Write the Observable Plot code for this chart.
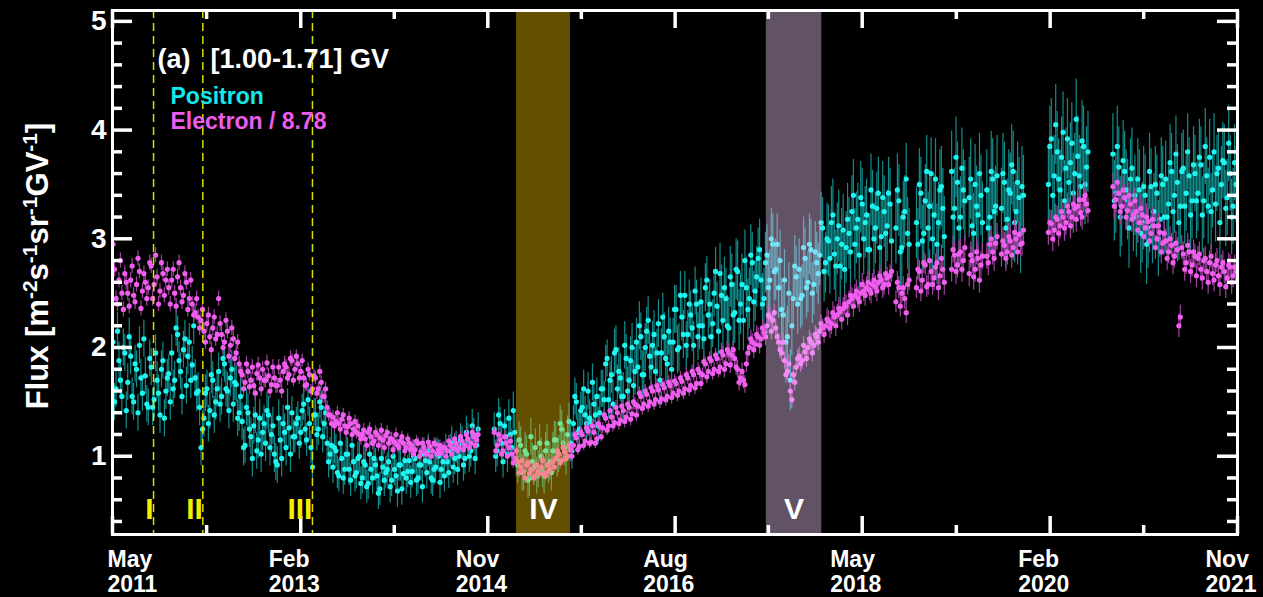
<!DOCTYPE html>
<html><head><meta charset="utf-8">
<script src="https://cdn.jsdelivr.net/npm/d3@7"></script>
<script src="https://cdn.jsdelivr.net/npm/@observablehq/plot@0.6"></script>
<style>
html,body{margin:0;padding:0;background:#000;}
#chart svg{display:block;}
</style></head><body><div id="chart"></div>
<script>
// ---- sampling grid of the series: samples "a" every 10 days, samples "b" 5 days later ----
const gridStart = "2011-05-03";
const gridStepDays = 10;
const bOffsetDays = 5;
const segStartIndex = [0, 130, 267, 274, 286, 292, 298, 303, 319, 341];

// ---- positron flux, samples a, per data segment ----
const pos1 = [2.05,1.62,1.88,1.55,1.95, 1.68,1.92,1.50,1.80,2.02,1.58,1.74,1.45, 1.82,1.52,1.70,1.38,1.88,1.60,1.76,
  1.95,1.70,2.12,1.78,1.98,1.65,2.05,1.84,1.72,1.60, 1.08,1.35,1.62,1.42,1.70,1.50, 1.78,1.55,1.85,1.60,1.72,1.48,1.66,1.40,
  1.32,1.10,1.40,1.18,1.28,1.05,1.35,1.22,1.12,1.38,1.20,1.02, 0.92,1.15,1.30,1.08,1.26,1.40,1.18, 1.35,1.22,1.48,1.15,1.30,0.90,
  1.38,1.25,1.45,1.30,1.12,1.02, 0.90,1.05,0.82,0.98,0.88,1.02,0.78,0.95,0.85,1.00,
  0.80,0.92,0.75,0.88,0.98,0.82,0.70,0.90,0.85,0.95,0.78,0.88,0.68,0.92,0.84,0.80,0.96,
  0.86,0.98,0.80,0.92,1.02,0.85,0.95,0.78,0.90,1.00,0.88,0.82, 0.95,1.05,0.90,1.08,1.00,1.12,0.98,1.15,1.05,1.20,1.10];
const pos2 = [1.25,1.05,1.30,0.95,1.18,1.35,1.08,1.22, 0.92,1.10,0.85,1.02,0.80,0.95,1.08,0.88,1.00,0.82,1.12,0.95,1.05,
  1.15,1.02,1.25,1.08,1.20,1.12, 1.30,1.50,1.25,1.45,1.38,1.60,1.32,1.48,1.55,1.40,
  1.62,1.85,1.52,1.75,1.95,1.62,1.72,1.55,1.90,1.70,2.00,1.78, 1.82,2.10,1.75,2.15,1.92,2.02,1.78,2.22,1.95,2.10,1.85,2.05,
  2.05,2.35,2.00,2.28,2.48,2.12,2.30,2.02,2.40,2.20, 2.20,2.55,2.30,2.10,2.50,2.38,2.68,2.25,2.45,2.18,
  2.58,2.32,2.70,2.40,2.25,2.55, 2.45,2.78,2.52,2.82,2.62,2.45, 2.85,2.62,2.95,2.72, 2.55,2.35,2.62,2.10,1.70,2.45,2.65,
  2.72,2.48,2.82,2.60,2.90,2.58,2.78, 2.85,3.10,2.78,2.98,3.15,2.86,3.00,2.75,3.08,2.92,
  3.05,3.25,2.95,3.18,3.38,3.00,3.22,2.90,3.30,3.10,3.42,3.02,3.25,3.12,3.32];
const pos3 = [3.10,3.35,2.92,3.25,3.05];
const pos4 = [3.15,3.50,2.98,3.35,3.10,3.60,3.22,2.95,3.45,3.28];
const pos5 = [3.62,3.28,3.52,3.20,3.45];
const pos6 = [3.38,3.12,3.50,3.22,3.40];
const pos7 = [3.45,3.20,3.55,3.30];
const pos8 = [3.28,3.52,3.18,3.42,3.62,3.25,3.38,3.48];
const pos9 = [3.50,3.92,3.58,3.80,3.45,3.98,3.65,3.52,3.88,3.60,3.76,3.48,3.85,3.66];
const pos10 = [3.78,3.42,3.66,3.30,3.62,3.36,3.55,3.25, 3.20,3.45,3.15,3.40,3.10,3.48,3.25,3.42,3.18,3.50,
  3.55,3.32,3.62,3.40,3.52,3.30,3.65,3.42,3.58,3.35,3.60, 3.42,3.68,3.35,3.58,3.75,3.45,3.32,3.65,3.50,3.70,3.38,3.60,3.30,3.50];

// ---- positron flux, samples b ----
const pos1b = [1.50,2.15,1.70,2.00,1.42, 2.10,1.55,1.85,1.40,1.72,2.08,1.48,1.90, 1.45,1.95,1.58,1.80,1.35,1.72,1.50,
  1.62,2.18,1.88,1.55,2.08,1.92,1.70,2.20,1.58,1.45, 1.25,1.58,1.30,1.75,1.38,1.62, 1.48,1.90,1.62,1.42,1.80,1.68,1.35,1.55,
  1.08,1.45,1.25,0.98,1.38,1.15,1.02,1.30,1.42,1.08,1.28,0.95, 1.35,0.98,1.22,1.45,1.02,1.18,1.30, 1.12,1.42,1.25,1.52,1.08,1.38,
  1.20,1.50,1.18,1.40,0.95,1.10, 1.08,0.85,1.12,0.80,1.02,0.88,1.10,0.82,0.98,0.75,
  0.95,0.72,1.02,0.80,0.92,0.66,0.98,0.78,0.88,0.72,1.00,0.82,0.92,0.70,0.96,0.86,0.76,
  1.00,0.78,0.92,0.72,0.96,1.05,0.80,0.88,1.02,0.76,0.95,1.05, 0.85,1.12,0.98,0.88,1.15,0.92,1.22,1.00,1.28,0.98,1.25];
const pos2b = [1.00,1.38,1.12,1.28,1.02,1.20,1.42,0.98, 1.15,0.85,1.05,0.78,1.18,0.90,0.82,1.12,0.88,1.05,0.92,0.85,1.15,
  0.98,1.30,1.12,1.00,1.32,1.05, 1.55,1.22,1.42,1.62,1.30,1.35,1.68,1.38,1.28,1.62,
  1.52,1.90,1.70,1.48,1.98,1.78,1.55,2.02,1.60,1.88,1.65,2.05, 2.20,1.75,2.00,2.25,1.82,2.12,1.95,1.70,2.28,1.90,2.15,1.80,
  2.35,1.98,2.48,2.12,2.02,2.40,2.18,2.52,2.10,2.42, 2.08,2.62,2.40,2.22,2.70,2.15,2.48,2.55,2.20,2.65,
  2.30,2.72,2.25,2.58,2.80,2.35, 2.85,2.42,2.65,2.90,2.40,2.78, 2.55,3.00,2.70,2.95, 2.80,2.30,2.05,2.50,2.20,2.75,2.40,
  2.45,2.92,2.55,2.95,2.50,2.88,2.68, 3.15,2.70,3.00,2.82,3.22,2.75,3.12,2.95,2.72,3.18,
  2.88,3.40,3.10,2.85,3.32,3.15,2.90,3.45,3.00,3.28,2.92,3.38,3.05,3.42,2.98];
const pos3b = [3.45,2.88,3.20,3.55,2.95];
const pos4b = [2.95,3.42,3.05,3.62,3.30,3.00,3.55,3.15,3.48,3.02];
const pos5b = [3.20,3.75,3.10,3.65,3.35];
const pos6b = [3.55,3.05,3.30,3.60,3.15];
const pos7b = [3.10,3.62,3.25,3.58];
const pos8b = [3.60,3.10,3.45,3.68,3.15,3.52,3.05,3.40];
const pos9b = [3.85,3.40,4.05,3.55,3.75,3.35,3.92,3.70,3.42,4.10,3.58,3.90,3.50,3.80];
const pos10b = [3.35,3.85,3.20,3.72,3.45,3.10,3.65,3.40, 3.55,3.05,3.48,2.95,3.62,3.12,3.50,3.00,3.58,3.20,
  3.20,3.70,3.25,3.78,3.15,3.62,3.30,3.80,3.22,3.68,3.35, 3.75,3.22,3.85,3.30,3.25,3.80,3.60,3.15,3.72,3.28,3.88,3.20,3.70,3.40];

// ---- electron flux / 8.78, samples a ----
const ele1 = [2.95,2.45,2.62,2.50,2.68, 2.50,2.62,2.48,2.58,2.70,2.52,2.60,2.55, 2.75,2.58,2.65,2.52,2.68,2.62,2.55,
  2.62,2.50,2.65,2.55,2.48,2.60,2.45,2.40,2.32,2.28, 2.25,2.15,2.22,2.10,2.18,2.08, 2.45,2.12,2.05,2.15,2.02,2.08,1.95,1.85,
  1.75,1.68,1.78,1.70,1.65,1.76,1.72,1.80,1.70,1.74,1.66,1.72, 1.65,1.70,1.78,1.82,1.75,1.88,1.80, 1.85,1.78,1.72,1.66,1.75,1.62,
  1.72,1.62,1.68,1.55,1.45,1.38, 1.36,1.32,1.30,1.34,1.28,1.27,1.30,1.25,1.22,1.20,
  1.20,1.16,1.22,1.18,1.14,1.20,1.17,1.15,1.19,1.12,1.16,1.13,1.10,1.14,1.12,1.08,1.12,
  1.10,1.06,1.12,1.04,1.08,1.02,1.09,1.05,1.11,1.06,1.03,1.08, 1.05,1.10,1.07,1.12,1.08,1.14,1.10,1.16,1.12,1.18,1.15];
const ele2 = [1.22,1.10,1.15,1.05,1.12,1.08,1.02,0.98, 0.95,0.90,0.86,0.92,0.84,0.88,0.82,0.86,0.90,0.84,0.92,0.88,0.95,
  0.98,1.02,0.96,1.04,1.00,1.06, 1.10,1.17,1.09,1.20,1.14,1.23,1.13,1.22,1.16,1.27,
  1.26,1.35,1.28,1.36,1.31,1.40,1.33,1.42,1.36,1.45,1.39,1.48, 1.46,1.55,1.48,1.57,1.50,1.60,1.52,1.61,1.53,1.63,1.55,1.65,
  1.58,1.67,1.60,1.69,1.62,1.72,1.65,1.75,1.67,1.77, 1.75,1.85,1.78,1.88,1.80,1.90,1.82,1.93,1.85,1.95,
  1.93,1.90,1.80,1.72,1.70,1.85, 2.00,2.05,2.03,2.10,2.08,2.14, 2.20,2.28,2.25,2.18, 2.05,1.95,1.88,1.78,1.60,1.75,1.82,
  1.92,1.88,1.96,2.00,2.05,2.02,2.10, 2.15,2.18,2.20,2.24,2.22,2.28,2.30,2.33,2.36,2.38,
  2.42,2.45,2.48,2.46,2.50,2.52,2.55,2.53,2.58,2.56,2.60,2.62,2.58,2.64,2.66];
const ele3 = [2.42,2.55,2.50,2.45,2.58];
const ele4 = [2.55,2.70,2.62,2.76,2.58,2.70,2.64,2.78,2.66,2.72];
const ele5 = [2.72,2.85,2.76,2.88,2.80];
const ele6 = [2.68,2.80,2.72,2.82,2.76];
const ele7 = [2.84,2.95,2.88,2.96];
const ele8 = [2.86,2.94,2.88,2.98,2.92,3.00,3.04,2.96];
const ele9 = [3.06,3.14,3.08,3.18,3.12,3.20,3.15,3.25,3.20,3.28,3.30,3.24,3.36,3.32];
const ele10 = [3.48,3.36,3.42,3.30,3.38,3.26,3.32,3.22, 3.25,3.15,3.22,3.10,3.16,3.05,3.12,3.00,3.06,2.96,
  2.98,2.88,2.94,2.84,2.90,2.28,2.86,2.78,2.88,2.76,2.84, 2.82,2.72,2.80,2.70,2.78,2.68,2.76,2.66,2.74,2.70,2.64,2.74,2.66,2.70];

// ---- electron flux / 8.78, samples b ----
const ele1b = [2.72,2.40,2.80,2.35,2.60, 2.38,2.75,2.42,2.82,2.36,2.68,2.45,2.78, 2.45,2.85,2.40,2.78,2.48,2.72,2.40,
  2.72,2.38,2.78,2.42,2.68,2.35,2.62,2.30,2.45,2.18, 2.35,2.05,2.30,1.98,2.28,2.12, 2.22,2.00,2.25,1.92,2.18,1.90,2.05,1.78,
  1.62,1.85,1.64,1.82,1.58,1.84,1.62,1.70,1.86,1.60,1.82,1.65, 1.82,1.60,1.85,1.72,1.90,1.70,1.92, 1.72,1.88,1.65,1.80,1.60,1.74,
  1.58,1.78,1.55,1.62,1.38,1.30, 1.28,1.40,1.25,1.38,1.22,1.35,1.20,1.32,1.28,1.16,
  1.24,1.10,1.25,1.12,1.22,1.10,1.24,1.08,1.22,1.16,1.06,1.20,1.08,1.18,1.05,1.16,1.06,
  1.02,1.14,1.00,1.12,1.03,1.13,1.00,1.12,1.02,1.10,1.08,1.00, 1.14,1.02,1.16,1.05,1.18,1.06,1.20,1.08,1.22,1.10,1.20];
const ele2b = [1.05,1.20,1.02,1.18,1.00,1.14,0.94,1.05, 0.85,0.96,0.80,0.94,0.88,0.80,0.92,0.84,0.96,0.82,0.86,0.94,0.90,
  1.05,0.94,1.08,0.98,1.10,1.00, 1.20,1.06,1.22,1.10,1.26,1.12,1.28,1.12,1.30,1.18,
  1.38,1.24,1.42,1.28,1.45,1.30,1.46,1.32,1.48,1.34,1.50,1.38, 1.58,1.44,1.60,1.46,1.63,1.48,1.65,1.50,1.66,1.52,1.68,1.54,
  1.69,1.56,1.72,1.58,1.75,1.61,1.78,1.63,1.80,1.67, 1.87,1.73,1.90,1.76,1.93,1.78,1.96,1.80,1.98,1.84,
  1.98,1.82,1.68,1.78,1.66,1.95, 2.08,1.98,2.12,2.02,2.18,2.10, 2.30,2.15,2.32,2.10, 1.98,2.05,1.75,1.85,1.52,1.68,1.90,
  1.85,2.02,1.90,2.08,1.95,2.12,2.05, 2.22,2.12,2.26,2.18,2.32,2.20,2.36,2.26,2.40,2.30,
  2.48,2.38,2.52,2.42,2.58,2.48,2.60,2.50,2.62,2.52,2.66,2.55,2.68,2.58,2.70];
const ele3b = [2.60,2.38,2.55,2.32,2.62];
const ele4b = [2.72,2.52,2.78,2.56,2.80,2.58,2.74,2.55,2.82,2.60];
const ele5b = [2.90,2.70,2.86,2.72,2.92];
const ele6b = [2.85,2.65,2.88,2.62,2.84];
const ele7b = [2.78,3.00,2.82,3.02];
const ele8b = [2.98,2.82,3.02,2.85,3.06,2.88,2.95,3.08];
const ele9b = [3.15,3.00,3.20,3.05,3.25,3.10,3.30,3.12,3.32,3.18,3.36,3.20,3.40,3.26];
const ele10b = [3.30,3.52,3.25,3.45,3.20,3.40,3.18,3.35, 3.08,3.28,3.02,3.20,2.98,3.18,2.92,3.12,2.88,3.05,
  2.82,3.00,2.78,2.96,2.20,2.92,2.72,2.94,2.70,2.88,2.66, 2.86,2.64,2.82,2.60,2.84,2.62,2.80,2.58,2.78,2.56,2.76,2.60,2.74,2.62];

// ---- typical error-bar half widths by year ----
const errYears = [2011,2012,2013,2014,2015,2016,2017,2018,2019,2020,2021];
const posErr   = [0.17,0.17,0.15,0.15,0.17,0.22,0.28,0.33,0.37,0.37,0.35];
const eleErr   = [0.07,0.07,0.06,0.05,0.05,0.06,0.08,0.10,0.12,0.12,0.11];

// ---- annotations ----
const eventDates  = ["2011-09-18","2012-03-04","2013-03-13"];
const eventLabels = ["I","II","III"];
const bandStart   = ["2015-02-07","2017-06-08"];
const bandEnd     = ["2015-08-10","2017-12-14"];
const bandLabels  = ["IV","V"];
const bandColors  = ["#fac300","#f5cdff"];

// ---- axes ----
const xMajor = ["2011-05-01","2013-02-01","2014-11-01","2016-08-01","2018-05-01","2020-02-01","2021-11-01"];
const xMinor = ["2012-03-17","2013-12-17","2015-09-16","2017-06-15","2019-03-18","2020-12-16"];
const yMajor = [1,2,3,4,5];
const yMinor = [0.4,0.6,0.8,1.2,1.4,1.6,1.8,2.2,2.4,2.6,2.8,3.2,3.4,3.6,3.8,4.2,4.4,4.6,4.8];

// ---- build tables ----
const start0 = new Date(gridStart + "T00:00Z");
function rowsOf(segs, errs, offset) {
  const out = [];
  segs.forEach((seg, k) => seg.forEach((v, j) => {
    const date = d3.utcDay.offset(start0, gridStepDays * (segStartIndex[k] + j) + offset);
    const e = errs[errYears.indexOf(date.getUTCFullYear())];
    out.push({date, value: v, lo: v - e, hi: v + e});
  }));
  return out;
}
const posRows = [
  ...rowsOf([pos1,pos2,pos3,pos4,pos5,pos6,pos7,pos8,pos9,pos10], posErr, 0),
  ...rowsOf([pos1b,pos2b,pos3b,pos4b,pos5b,pos6b,pos7b,pos8b,pos9b,pos10b], posErr, bOffsetDays)];
const eleRows = [
  ...rowsOf([ele1,ele2,ele3,ele4,ele5,ele6,ele7,ele8,ele9,ele10], eleErr, 0),
  ...rowsOf([ele1b,ele2b,ele3b,ele4b,ele5b,ele6b,ele7b,ele8b,ele9b,ele10b], eleErr, bOffsetDays)];
const D = s => new Date(s + "T00:00Z");
const events = eventDates.map((d, i) => ({date: D(d), label: eventLabels[i]}));
const bands = bandStart.map((s, i) => ({start: D(s), end: D(bandEnd[i]), mid: new Date((+D(s) + +D(bandEnd[i])) / 2), label: bandLabels[i]}));
const xMaj = xMajor.map(D), xMin = xMinor.map(D);

const W = 1263, H = 597, mL = 112, mR = 26, mT = 10, mB = 63;
const pw = W - mL - mR, ph = H - mT - mB;
const fmtMonth = d3.utcFormat("%b"), fmtYear = d3.utcFormat("%Y");
const white = "#ffffff";

const chart = Plot.plot({
  width: W, height: H,
  marginLeft: mL, marginRight: mR, marginTop: mT, marginBottom: mB,
  x: {type: "utc", domain: [D("2011-05-01"), D("2021-11-01")], axis: null},
  y: {domain: [0.28, 5.1], axis: null},
  style: "background:#000;color:#fff;font-family:'Liberation Sans',Arial,Helvetica,sans-serif;font-weight:bold;",
  marks: [
    Plot.ruleX(posRows, {x: "date", y1: "lo", y2: "hi", stroke: "#14a5a5", strokeWidth: 1.2, strokeOpacity: 0.85, clip: true}),
    Plot.dot(posRows, {x: "date", y: "value", r: 2.6, fill: "#1ef5f0", clip: true}),
    Plot.ruleX(eleRows, {x: "date", y1: "lo", y2: "hi", stroke: "#a040a0", strokeWidth: 1.2, clip: true}),
    Plot.dot(eleRows, {x: "date", y: "value", r: 2.6, fill: "#f05ef0", clip: true}),
    Plot.rect([bands[0]], {x1: "start", x2: "end", fill: bandColors[0], fillOpacity: 0.4}),
    Plot.rect([bands[1]], {x1: "start", x2: "end", fill: bandColors[1], fillOpacity: 0.4}),
    Plot.ruleX(events, {x: "date", stroke: "#dede00", strokeWidth: 1.5, strokeDasharray: "8,5"}),
    Plot.frame({stroke: white, strokeWidth: 3}),
    // inward ticks on all four sides
    Plot.tickY(yMajor, {y: d => d, stroke: white, strokeWidth: 3.5, insetRight: pw - 20}),
    Plot.tickY(yMajor, {y: d => d, stroke: white, strokeWidth: 3.5, insetLeft: pw - 20}),
    Plot.tickY(yMinor, {y: d => d, stroke: white, strokeWidth: 3.5, insetRight: pw - 10}),
    Plot.tickY(yMinor, {y: d => d, stroke: white, strokeWidth: 3.5, insetLeft: pw - 10}),
    Plot.tickX(xMaj, {x: d => d, stroke: white, strokeWidth: 3.5, insetTop: ph - 18}),
    Plot.tickX(xMaj, {x: d => d, stroke: white, strokeWidth: 3.5, insetBottom: ph - 18}),
    Plot.tickX(xMin, {x: d => d, stroke: white, strokeWidth: 3.5, insetTop: ph - 9}),
    Plot.tickX(xMin, {x: d => d, stroke: white, strokeWidth: 3.5, insetBottom: ph - 9}),
    // tick labels
    Plot.text(yMajor, {y: d => d, text: d => String(d), frameAnchor: "left", textAnchor: "end", dx: -6, fontSize: 28, fill: white}),
    Plot.text(xMaj.slice(0, 1), {x: d => d, text: fmtMonth, frameAnchor: "bottom", lineAnchor: "top", textAnchor: "start", dx: -5, dy: 16, fontSize: 23, fill: white}),
    Plot.text(xMaj.slice(0, 1), {x: d => d, text: fmtYear, frameAnchor: "bottom", lineAnchor: "top", textAnchor: "start", dx: -5, dy: 41, fontSize: 23, fill: white}),
    Plot.text(xMaj.slice(1), {x: d => d, text: fmtMonth, frameAnchor: "bottom", lineAnchor: "top", textAnchor: "start", dx: -32, dy: 16, fontSize: 23, fill: white}),
    Plot.text(xMaj.slice(1), {x: d => d, text: fmtYear, frameAnchor: "bottom", lineAnchor: "top", textAnchor: "start", dx: -32, dy: 41, fontSize: 23, fill: white}),
    // event labels
    Plot.text(events, {x: "date", text: "label", frameAnchor: "bottom", lineAnchor: "bottom", textAnchor: "end", dy: -16, fontSize: 30, fill: "#f0f000"}),
    Plot.text(bands, {x: "mid", text: "label", frameAnchor: "bottom", lineAnchor: "bottom", textAnchor: "middle", dy: -16, fontSize: 30, fill: white}),
    // title and legend
    Plot.text(["(a)"], {text: d => d, frameAnchor: "top-left", lineAnchor: "bottom", textAnchor: "start", dx: 45, dy: 57, fontSize: 27, fill: white}),
    Plot.text(["[1.00-1.71] GV"], {text: d => d, frameAnchor: "top-left", lineAnchor: "bottom", textAnchor: "start", dx: 98, dy: 57, fontSize: 27, fill: white}),
    Plot.text(["Positron"], {text: d => d, frameAnchor: "top-left", lineAnchor: "bottom", textAnchor: "start", dx: 58, dy: 93, fontSize: 23, fill: "#14e8e8"}),
    Plot.text(["Electron / 8.78"], {text: d => d, frameAnchor: "top-left", lineAnchor: "bottom", textAnchor: "start", dx: 58, dy: 118, fontSize: 23, fill: "#ee5cee"})
  ]
});

// y-axis title with superscripts
const svg = d3.select(chart);
const t = svg.append("text")
  .attr("transform", "translate(48,266) rotate(-90)")
  .attr("text-anchor", "middle")
  .attr("fill", white)
  .style("font-size", "31px").style("font-weight", "bold")
  .style("font-family", "'Liberation Sans',Arial,sans-serif");
const parts = [["Flux [m", 0], ["-2", 1], ["s", 0], ["-1", 1], ["sr", 0], ["-1", 1], ["GV", 0], ["-1", 1], ["]", 0]];
let raised = false;
parts.forEach(([s, sup]) => {
  const sp = t.append("tspan").text(s);
  if (sup && !raised) { sp.attr("dy", -11).style("font-size", "21px"); raised = true; }
  else if (sup) { sp.style("font-size", "21px"); }
  else if (!sup && raised) { sp.attr("dy", 11); raised = false; }
});

document.getElementById("chart").appendChild(chart);
</script>
</body></html>
